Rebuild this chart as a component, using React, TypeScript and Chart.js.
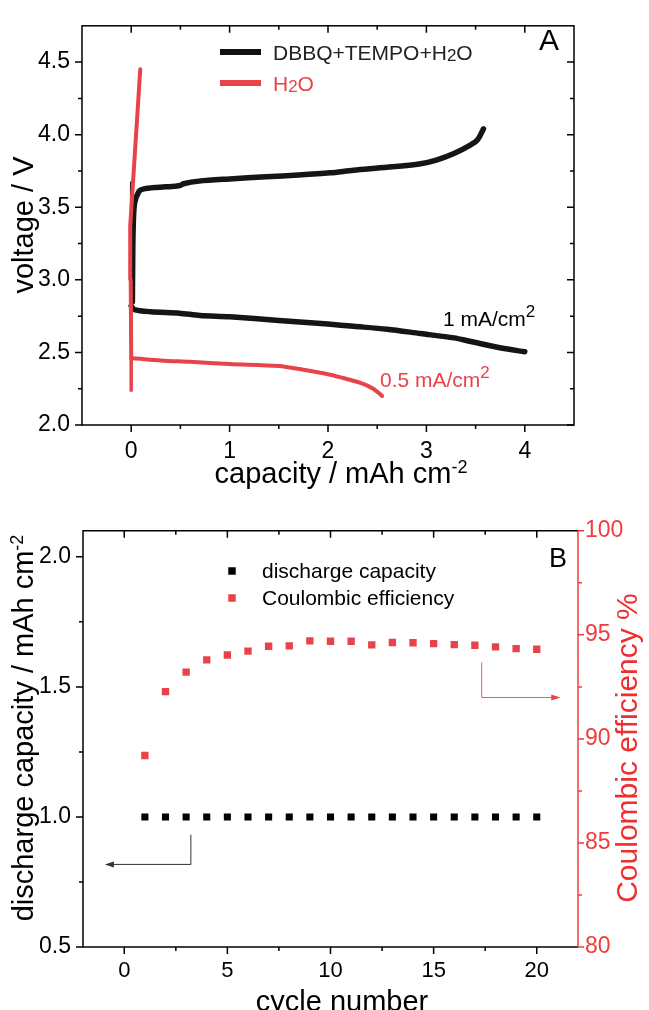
import React, { useEffect, useRef } from 'react';
import { Chart, registerables } from 'chart.js';

Chart.register(...registerables);

const FONT = '"Liberation Sans", Arial, Helvetica, sans-serif';
const RED = '#e8434b';
const AXIS_RED = '#f03c3c';

// ---------- Panel A: voltage profiles ----------
const blackChargeCap = [0.012, 0.015, 0.02, 0.035, 0.08, 0.12, 0.25, 0.45, 0.5, 0.53, 0.69, 1.0, 1.37, 1.7, 2.02, 2.26, 2.6, 2.94, 3.1, 3.28, 3.45, 3.52, 3.58];
const blackChargeV = [2.85, 3.1, 3.35, 3.53, 3.61, 3.625, 3.636, 3.645, 3.65, 3.662, 3.68, 3.695, 3.71, 3.722, 3.737, 3.755, 3.775, 3.8, 3.825, 3.87, 3.93, 3.965, 4.04];

const blackSpikeCap = [0, 0];
const blackSpikeV = [3.67, 2.82];

const blackDischargeCap = [0, 0.03, 0.2, 0.49, 0.7, 1.0, 1.5, 2.0, 2.26, 2.6, 2.94, 3.28, 3.45, 3.76, 4.0];
const blackDischargeV = [2.82, 2.795, 2.78, 2.77, 2.755, 2.745, 2.72, 2.695, 2.68, 2.66, 2.63, 2.6, 2.575, 2.53, 2.505];

const redChargeCap = [0.0, -0.005, -0.01, 0.092];
const redChargeV = [2.47, 3.0, 3.37, 4.45];

const redSpikeCap = [0, 0];
const redSpikeV = [2.24, 2.46];

const redDischargeCap = [0, 0.02, 0.3, 0.6, 1.0, 1.5, 1.75, 2.0, 2.12, 2.33, 2.46, 2.55];
const redDischargeV = [2.46, 2.46, 2.445, 2.435, 2.42, 2.406, 2.38, 2.35, 2.33, 2.29, 2.25, 2.2];

const xTicksA = [0, 1, 2, 3, 4];
const xMinorA = [0.5, 1.5, 2.5, 3.5];
const yTicksA = [2.0, 2.5, 3.0, 3.5, 4.0, 4.5];
const yMinorA = [2.25, 2.75, 3.25, 3.75, 4.25];

// ---------- Panel B: cycling ----------
const cycles = [1, 2, 3, 4, 5, 6, 7, 8, 9, 10, 11, 12, 13, 14, 15, 16, 17, 18, 19, 20];
const dischargeCapacity = [1.0, 1.0, 1.0, 1.0, 1.0, 1.0, 1.0, 1.0, 1.0, 1.0, 1.0, 1.0, 1.0, 1.0, 1.0, 1.0, 1.0, 1.0, 1.0, 1.0];
const coulombicEff = [89.2, 92.27, 93.21, 93.8, 94.03, 94.22, 94.45, 94.47, 94.71, 94.69, 94.69, 94.52, 94.63, 94.62, 94.58, 94.53, 94.5, 94.42, 94.34, 94.31];

const xTicksB = [0, 5, 10, 15, 20];
const xMinorB = [2.5, 7.5, 12.5, 17.5];
const yTicksB = [0.5, 1.0, 1.5, 2.0];
const yMinorB = [0.75, 1.25, 1.75];
const y1TicksB = [80, 85, 90, 95, 100];
const y1MinorB = [82.5, 87.5, 92.5, 97.5];

// annotation arrows (data coordinates)
const blackArrow = { x0: 3.23, yTop: 0.932, yBot: 0.8175, xEnd: -0.94 };
const redArrow = { x0: 17.33, yTop: 93.67, yBot: 91.99, xEnd: 21.14 };

const zip = (xs: number[], ys: number[]) => xs.map((x, i) => ({ x, y: ys[i] }));

type Part = { t: string; size: number; dy?: number };

function drawRich(ctx: CanvasRenderingContext2D, parts: Part[], x: number, y: number, align: 'left' | 'center', color: string) {
  ctx.fillStyle = color;
  ctx.textAlign = 'left';
  ctx.textBaseline = 'alphabetic';
  let w = 0;
  for (const p of parts) {
    ctx.font = `${p.size}px ${FONT}`;
    w += ctx.measureText(p.t).width;
  }
  let cx = align === 'center' ? x - w / 2 : x;
  for (const p of parts) {
    ctx.font = `${p.size}px ${FONT}`;
    ctx.fillText(p.t, cx, y + (p.dy || 0));
    cx += ctx.measureText(p.t).width;
  }
}

function drawRotated(ctx: CanvasRenderingContext2D, parts: Part[], x: number, y: number, color: string) {
  ctx.save();
  ctx.translate(x, y);
  ctx.rotate(-Math.PI / 2);
  drawRich(ctx, parts, 0, 0, 'center', color);
  ctx.restore();
}

function tickMarks(ctx: CanvasRenderingContext2D, scale: any, values: number[], edge: number, side: string, len: number, color: string) {
  ctx.strokeStyle = color;
  ctx.lineWidth = 1.5;
  ctx.beginPath();
  for (const v of values) {
    const p = scale.getPixelForValue(v);
    if (side === 'bottom') { ctx.moveTo(p, edge); ctx.lineTo(p, edge + len); }
    else if (side === 'top') { ctx.moveTo(p, edge); ctx.lineTo(p, edge - len); }
    else if (side === 'left') { ctx.moveTo(edge, p); ctx.lineTo(edge - len, p); }
    else { ctx.moveTo(edge, p); ctx.lineTo(edge + len, p); }
  }
  ctx.stroke();
}

function arrowHead(ctx: CanvasRenderingContext2D, x: number, y: number, dir: number, color: string) {
  ctx.fillStyle = color;
  ctx.beginPath();
  ctx.moveTo(x, y);
  ctx.lineTo(x - dir * 9, y - 3);
  ctx.lineTo(x - dir * 9, y + 3);
  ctx.closePath();
  ctx.fill();
}

const decorA = {
  id: 'decorA',
  afterDraw(chart: any) {
    const ctx: CanvasRenderingContext2D = chart.ctx;
    const { left, right, top, bottom } = chart.chartArea;
    const xs = chart.scales.x;
    const ys = chart.scales.y;
    ctx.save();
    ctx.strokeStyle = '#000';
    ctx.lineWidth = 1.5;
    ctx.strokeRect(left, top, right - left, bottom - top);
    tickMarks(ctx, xs, xTicksA, bottom, 'bottom', 7, '#000');
    tickMarks(ctx, xs, xMinorA, bottom, 'bottom', 4, '#000');
    tickMarks(ctx, xs, xTicksA, top, 'top', -7, '#000');
    tickMarks(ctx, xs, xMinorA, top, 'top', -4, '#000');
    tickMarks(ctx, ys, yTicksA, left, 'left', 7, '#000');
    tickMarks(ctx, ys, yMinorA, left, 'left', 4, '#000');
    tickMarks(ctx, ys, yTicksA, right, 'right', -7, '#000');
    tickMarks(ctx, ys, yMinorA, right, 'right', -4, '#000');

    // titles
    drawRich(ctx, [{ t: 'capacity / mAh cm', size: 29 }, { t: '-2', size: 18, dy: -10 }], 341, 483, 'center', '#000');
    drawRotated(ctx, [{ t: 'voltage / V', size: 29 }], 33, 225, '#000');

    // panel letter
    ctx.font = `30px ${FONT}`;
    ctx.fillStyle = '#000';
    ctx.textAlign = 'center';
    ctx.textBaseline = 'alphabetic';
    ctx.fillText('A', 549, 50);

    // legend
    ctx.lineCap = 'butt';
    ctx.lineWidth = 6;
    ctx.strokeStyle = '#111';
    ctx.beginPath(); ctx.moveTo(220, 52); ctx.lineTo(261, 52); ctx.stroke();
    ctx.strokeStyle = RED;
    ctx.beginPath(); ctx.moveTo(220, 83); ctx.lineTo(261, 83); ctx.stroke();
    drawRich(ctx, [{ t: 'DBBQ+TEMPO+H', size: 21 }, { t: '2', size: 17, dy: 1 }, { t: 'O', size: 21 }], 273, 59.5, 'left', '#222');
    drawRich(ctx, [{ t: 'H', size: 21 }, { t: '2', size: 17, dy: 1 }, { t: 'O', size: 21 }], 273, 90.5, 'left', RED);

    // current density labels
    drawRich(ctx, [{ t: '1 mA/cm', size: 21 }, { t: '2', size: 17, dy: -9 }], 443, 326, 'left', '#000');
    drawRich(ctx, [{ t: '0.5 mA/cm', size: 21 }, { t: '2', size: 17, dy: -9 }], 380, 387, 'left', RED);
    ctx.restore();
  },
};

const decorB = {
  id: 'decorB',
  afterDraw(chart: any) {
    const ctx: CanvasRenderingContext2D = chart.ctx;
    const { left, right, top, bottom } = chart.chartArea;
    const xs = chart.scales.x;
    const ys = chart.scales.y;
    const y1 = chart.scales.y1;
    ctx.save();
    ctx.lineWidth = 1.5;
    ctx.strokeStyle = '#000';
    ctx.beginPath();
    ctx.moveTo(right, top); ctx.lineTo(left, top); ctx.lineTo(left, bottom); ctx.lineTo(right, bottom);
    ctx.stroke();
    ctx.strokeStyle = AXIS_RED;
    ctx.beginPath(); ctx.moveTo(right, top); ctx.lineTo(right, bottom); ctx.stroke();

    tickMarks(ctx, xs, xTicksB, bottom, 'bottom', 7, '#000');
    tickMarks(ctx, xs, xMinorB, bottom, 'bottom', 4, '#000');
    tickMarks(ctx, xs, xTicksB, top, 'top', -7, '#000');
    tickMarks(ctx, xs, xMinorB, top, 'top', -4, '#000');
    tickMarks(ctx, ys, yTicksB, left, 'left', 7, '#000');
    tickMarks(ctx, ys, yMinorB, left, 'left', 4, '#000');
    tickMarks(ctx, y1, y1TicksB, right, 'right', 6, AXIS_RED);
    tickMarks(ctx, y1, y1MinorB, right, 'right', 4, AXIS_RED);

    // titles
    drawRich(ctx, [{ t: 'cycle number', size: 29 }], 342, 506, 'center', '#000');
    drawRotated(ctx, [{ t: 'discharge capacity / mAh cm', size: 29 }, { t: '-2', size: 18, dy: -10 }], 33, 223, '#000');
    drawRotated(ctx, [{ t: 'Coulombic efficiency %', size: 30 }], 637, 243, '#ef2f2f');

    // panel letter
    ctx.font = `27px ${FONT}`;
    ctx.fillStyle = '#000';
    ctx.textAlign = 'center';
    ctx.textBaseline = 'alphabetic';
    ctx.fillText('B', 558, 62);

    // legend
    ctx.fillStyle = '#000';
    ctx.fillRect(232 - 3.75, 66 - 3.75, 7.5, 7.5);
    ctx.fillStyle = RED;
    ctx.fillRect(232 - 3.75, 93 - 3.75, 7.5, 7.5);
    drawRich(ctx, [{ t: 'discharge capacity', size: 21 }], 262, 73, 'left', '#000');
    drawRich(ctx, [{ t: 'Coulombic efficiency', size: 21 }], 262, 100, 'left', '#000');

    // arrows
    ctx.lineWidth = 1;
    ctx.strokeStyle = '#333';
    const bx = xs.getPixelForValue(blackArrow.x0);
    const byT = ys.getPixelForValue(blackArrow.yTop);
    const byB = ys.getPixelForValue(blackArrow.yBot);
    const bxE = xs.getPixelForValue(blackArrow.xEnd);
    ctx.beginPath(); ctx.moveTo(bx, byT); ctx.lineTo(bx, byB); ctx.lineTo(bxE + 6, byB); ctx.stroke();
    arrowHead(ctx, bxE, byB, -1, '#333');

    ctx.strokeStyle = '#f05a5a';
    const rx = xs.getPixelForValue(redArrow.x0);
    const ryT = y1.getPixelForValue(redArrow.yTop);
    const ryB = y1.getPixelForValue(redArrow.yBot);
    const rxE = xs.getPixelForValue(redArrow.xEnd);
    ctx.beginPath(); ctx.moveTo(rx, ryT); ctx.lineTo(rx, ryB); ctx.lineTo(rxE - 6, ryB); ctx.stroke();
    arrowHead(ctx, rxE, ryB, 1, '#f04040');
    ctx.restore();
  },
};

const tickFont = (size: number) => ({ size, family: FONT });

const lineDs = (label: string, xs: number[], ys: number[], color: string, width: number, tension: number) => ({
  label,
  data: zip(xs, ys),
  showLine: true,
  borderColor: color,
  backgroundColor: color,
  borderWidth: width,
  pointRadius: 0,
  tension,
  borderCapStyle: 'round',
  borderJoinStyle: 'round',
});

function makeConfigA(): any {
  return {
    type: 'scatter',
    data: {
      datasets: [
        lineDs('H2O charge', redChargeCap, redChargeV, RED, 4, 0),
        lineDs('H2O discharge spike', redSpikeCap, redSpikeV, RED, 3.5, 0),
        lineDs('H2O discharge', redDischargeCap, redDischargeV, RED, 4, 0.3),
        lineDs('DBBQ+TEMPO+H2O spike', blackSpikeCap, blackSpikeV, '#151515', 2.5, 0),
        lineDs('DBBQ+TEMPO+H2O charge', blackChargeCap, blackChargeV, '#151515', 5.5, 0.3),
        lineDs('DBBQ+TEMPO+H2O discharge', blackDischargeCap, blackDischargeV, '#151515', 5.5, 0.3),
      ],
    },
    options: {
      animation: false,
      responsive: false,
      devicePixelRatio: 1,
      layout: { padding: { top: 16, right: 75, left: 0, bottom: 0 } },
      plugins: { legend: { display: false }, tooltip: { enabled: false } },
      scales: {
        x: {
          type: 'linear', position: 'bottom', min: -0.5, max: 4.5,
          afterBuildTicks: (s: any) => { s.ticks = xTicksA.map((v) => ({ value: v })); },
          afterFit: (s: any) => { s.height = 80; },
          ticks: { font: tickFont(23), color: '#000', padding: 13, maxRotation: 0, autoSkip: false, callback: (v: any) => String(v) },
          grid: { display: false, drawTicks: false },
          border: { display: false },
        },
        y: {
          type: 'linear', position: 'left', min: 2.0, max: 4.75,
          afterBuildTicks: (s: any) => { s.ticks = yTicksA.map((v) => ({ value: v })); },
          afterFit: (s: any) => { s.width = 82; },
          ticks: { font: tickFont(23), color: '#000', padding: 12, autoSkip: false, callback: (v: any) => Number(v).toFixed(1) },
          grid: { display: false, drawTicks: false },
          border: { display: false },
        },
      },
    },
    plugins: [decorA],
  };
}

function makeConfigB(): any {
  return {
    type: 'scatter',
    data: {
      datasets: [
        { label: 'discharge capacity', data: zip(cycles, dischargeCapacity), yAxisID: 'y', pointStyle: 'rect', pointRadius: 5, borderWidth: 0, backgroundColor: '#000' },
        { label: 'Coulombic efficiency', data: zip(cycles, coulombicEff), yAxisID: 'y1', pointStyle: 'rect', pointRadius: 5.2, borderWidth: 0, backgroundColor: RED },
      ],
    },
    options: {
      animation: false,
      responsive: false,
      devicePixelRatio: 1,
      layout: { padding: { top: 23, right: 0, left: 0, bottom: 0 } },
      plugins: { legend: { display: false }, tooltip: { enabled: false } },
      scales: {
        x: {
          type: 'linear', position: 'bottom', min: -2, max: 22,
          afterBuildTicks: (s: any) => { s.ticks = xTicksB.map((v) => ({ value: v })); },
          afterFit: (s: any) => { s.height = 63; },
          ticks: { font: tickFont(22), color: '#000', padding: 11, maxRotation: 0, autoSkip: false, callback: (v: any) => String(v) },
          grid: { display: false, drawTicks: false },
          border: { display: false },
        },
        y: {
          type: 'linear', position: 'left', min: 0.5, max: 2.1,
          afterBuildTicks: (s: any) => { s.ticks = yTicksB.map((v) => ({ value: v })); },
          afterFit: (s: any) => { s.width = 83; },
          ticks: { font: tickFont(23), color: '#000', padding: 12, autoSkip: false, callback: (v: any) => Number(v).toFixed(1) },
          grid: { display: false, drawTicks: false },
          border: { display: false },
        },
        y1: {
          type: 'linear', position: 'right', min: 80, max: 100,
          afterBuildTicks: (s: any) => { s.ticks = y1TicksB.map((v) => ({ value: v })); },
          afterFit: (s: any) => { s.width = 71; },
          ticks: { font: tickFont(23), color: AXIS_RED, padding: 7, autoSkip: false, callback: (v: any) => String(v) },
          grid: { display: false, drawTicks: false },
          border: { display: false },
        },
      },
    },
    plugins: [decorB],
  };
}

export default function App() {
  const refA = useRef<HTMLCanvasElement>(null);
  const refB = useRef<HTMLCanvasElement>(null);

  useEffect(() => {
    Chart.defaults.font.family = FONT;
    const a = new Chart(refA.current as HTMLCanvasElement, makeConfigA());
    const b = new Chart(refB.current as HTMLCanvasElement, makeConfigB());
    return () => {
      a.destroy();
      b.destroy();
    };
  }, []);

  return (
    <div style={{ position: 'absolute', left: 0, top: 0, width: 649, height: 1010, background: '#fff', overflow: 'hidden' }}>
      <canvas ref={refA} width={649} height={505} style={{ display: 'block', width: 649, height: 505 }} />
      <canvas ref={refB} width={649} height={505} style={{ display: 'block', width: 649, height: 505 }} />
    </div>
  );
}
